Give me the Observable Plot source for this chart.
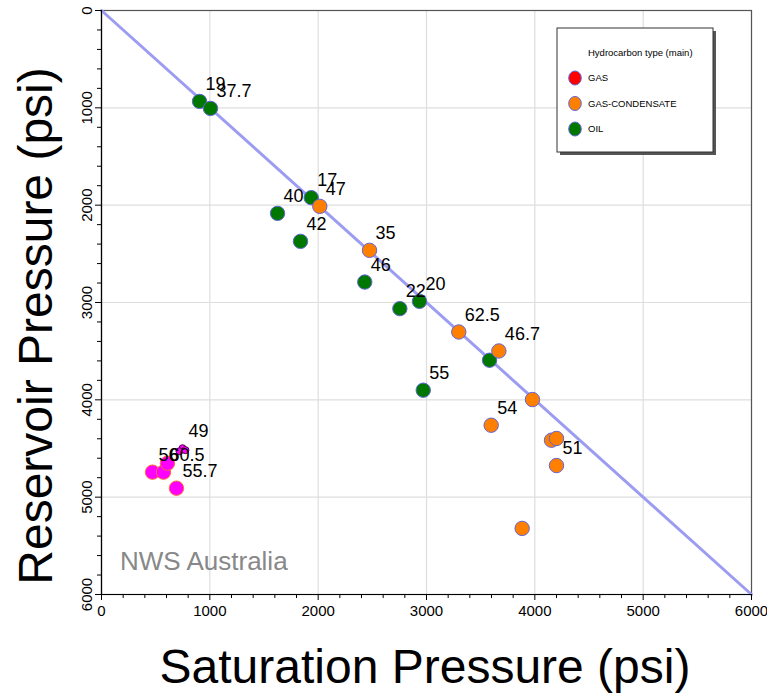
<!DOCTYPE html>
<html>
<head>
<meta charset="utf-8">
<script src="https://cdn.jsdelivr.net/npm/d3@7"></script>
<script src="https://cdn.jsdelivr.net/npm/@observablehq/plot@0.6"></script>
<style>
  html, body { margin: 0; padding: 0; background: #fff; }
  #chart { width: 767px; height: 695px; }
</style>
</head>
<body>
<div id="chart"></div>
<script>
// ---- data ----
const satPressure = [905, 1006, 1625, 1936, 2015, 1837, 2430, 2474, 2754, 2935, 3298, 3582, 3668, 2970, 3978, 3597, 4154, 4200, 4200, 3883, 471, 572, 609, 692];
const resPressure = [934, 1006, 2084, 1923, 2012, 2372, 2790, 2464, 3063, 2988, 3303, 3593, 3498, 3901, 3997, 4261, 4415, 4397, 4675, 5321, 4743, 4743, 4651, 4908];
const hcType = ["OIL", "OIL", "OIL", "OIL", "GAS-CONDENSATE", "OIL", "OIL", "GAS-CONDENSATE", "OIL", "OIL", "GAS-CONDENSATE", "OIL", "GAS-CONDENSATE", "OIL", "GAS-CONDENSATE", "GAS-CONDENSATE", "GAS-CONDENSATE", "GAS-CONDENSATE", "GAS-CONDENSATE", "GAS-CONDENSATE", "GAS", "GAS", "GAS", "GAS"];
const pointLabels = ["19", "37.7", "40", "17", "47", "42", "46", "35", "22", "20", "62.5", "", "46.7", "55", "", "54", "", "", "51", "", "56", "60.5", "", "55.7"];

// small overlapping gas samples
const smallSat = [748, 720, 775];
const smallRes = [4497, 4528, 4517];
const smallLabels = ["49", "", ""];

const types = ["GAS", "GAS-CONDENSATE", "OIL"];
const legendColors = ["#ff0000", "#ff8000", "#007800"];
const pointColors = ["#ff00ff", "#ff8000", "#007800"];

const majorTicks = [0, 1000, 2000, 3000, 4000, 5000, 6000];
const minorTicks = [200, 400, 600, 800, 1200, 1400, 1600, 1800, 2200, 2400, 2600, 2800, 3200, 3400, 3600, 3800, 4200, 4400, 4600, 4800, 5200, 5400, 5600, 5800];
const diagonal = [0, 6000];

const legendTitle = "Hydrocarbon type (main)";
const xTitle = "Saturation Pressure (psi)";
const yTitle = "Reservoir Pressure (psi)";
const note = "NWS Australia";

// ---- build table ----
const points = satPressure.map((x, i) => ({x, y: resPressure[i], type: hcType[i], label: pointLabels[i]}));
const smallPoints = smallSat.map((x, i) => ({x, y: smallRes[i], type: "GAS", label: smallLabels[i]}));

const font = "'Liberation Sans', Arial, sans-serif";

const chart = Plot.plot({
  width: 767,
  height: 695,
  marginLeft: 101,
  marginRight: 16,
  marginTop: 10,
  marginBottom: 101,
  style: {fontFamily: font, background: "white", overflow: "visible"},
  x: {domain: [0, 6000]},
  y: {domain: [0, 6000], reverse: true},
  color: {domain: types, range: pointColors},
  marks: [
    Plot.gridX(majorTicks.slice(1), {stroke: "#dedede", strokeOpacity: 1, strokeWidth: 1.2}),
    Plot.gridY(majorTicks.slice(1), {stroke: "#dedede", strokeOpacity: 1, strokeWidth: 1.2}),
    Plot.frame({stroke: "#555", strokeWidth: 1.2}),
    Plot.line(diagonal, {x: d => d, y: d => d, stroke: "#9c9cf2", strokeWidth: 3}),
    Plot.ruleX([0], {stroke: "#000", strokeWidth: 1.2}),
    Plot.ruleY([6000], {stroke: "#000", strokeWidth: 1.2}),
    Plot.axisX({ticks: minorTicks, tickSize: 4, tickFormat: () => "", label: null, stroke: "#000"}),
    Plot.axisX({ticks: majorTicks, tickSize: 6, tickPadding: 5, label: null, fontSize: 15, tickFormat: d => String(d), fill: "#000"}),
    Plot.axisY({ticks: minorTicks, tickSize: 4, tickFormat: () => "", label: null, stroke: "#000"}),
    Plot.axisY({ticks: majorTicks, tickSize: 6, tickPadding: 4, tickRotate: -90, label: null, fontSize: 15, tickFormat: d => String(d), fill: "#000"}),
    Plot.dot(smallPoints, {x: "x", y: "y", r: 3.5, fill: "type", stroke: "#5a0050", strokeWidth: 1}),
    Plot.dot(points, {filter: d => d.type !== "GAS", x: "x", y: "y", r: 7.2, fill: "type", stroke: "#6464d8", strokeWidth: 1}),
    Plot.dot(points, {filter: d => d.type === "GAS", x: "x", y: "y", r: 7.2, fill: "type", stroke: "#ff6a3c", strokeWidth: 1}),
    Plot.text(points, {x: "x", y: "y", text: "label", dx: 6, dy: -17, textAnchor: "start", fontSize: 18, fill: "#000"}),
    Plot.text(smallPoints, {x: "x", y: "y", text: "label", dx: 6, dy: -17, textAnchor: "start", fontSize: 18, fill: "#000"})
  ]
});

document.getElementById("chart").appendChild(chart);

// ---- annotations: titles, note, legend ----
const svg = d3.select(chart);

svg.append("text")
  .attr("x", 425).attr("y", 683)
  .attr("text-anchor", "middle")
  .style("font-family", font).style("font-size", "48px").attr("fill", "#000")
  .text(xTitle);

svg.append("text")
  .attr("transform", "translate(52,326) rotate(-90)")
  .attr("text-anchor", "middle")
  .style("font-family", font).style("font-size", "48px").attr("fill", "#000")
  .text(yTitle);

svg.append("text")
  .attr("x", 120).attr("y", 570)
  .attr("text-anchor", "start")
  .style("font-family", font).style("font-size", "26px").attr("fill", "#888")
  .text(note);

const lg = svg.append("g").attr("text-anchor", "start");
lg.append("rect").attr("x", 560).attr("y", 31).attr("width", 156).attr("height", 124).attr("fill", "#555");
lg.append("rect").attr("x", 557).attr("y", 28).attr("width", 156).attr("height", 124).attr("fill", "#fff").attr("stroke", "#333").attr("stroke-width", 1);
lg.append("text").attr("x", 588).attr("y", 53).attr("dy", "0.35em").attr("text-anchor", "start")
  .style("font-family", font).style("font-size", "9.5px").attr("fill", "#000").text(legendTitle);
types.forEach((t, i) => {
  const cy = 78 + i * 25.5;
  lg.append("ellipse").attr("cx", 575).attr("cy", cy).attr("rx", 6.3).attr("ry", 7)
    .attr("fill", legendColors[i]).attr("stroke", "#6464d8").attr("stroke-width", 1);
  lg.append("text").attr("x", 588).attr("y", cy).attr("dy", "0.35em").attr("text-anchor", "start")
    .style("font-family", font).style("font-size", "9.5px").attr("fill", "#000").text(t);
});
</script>
</body>
</html>
